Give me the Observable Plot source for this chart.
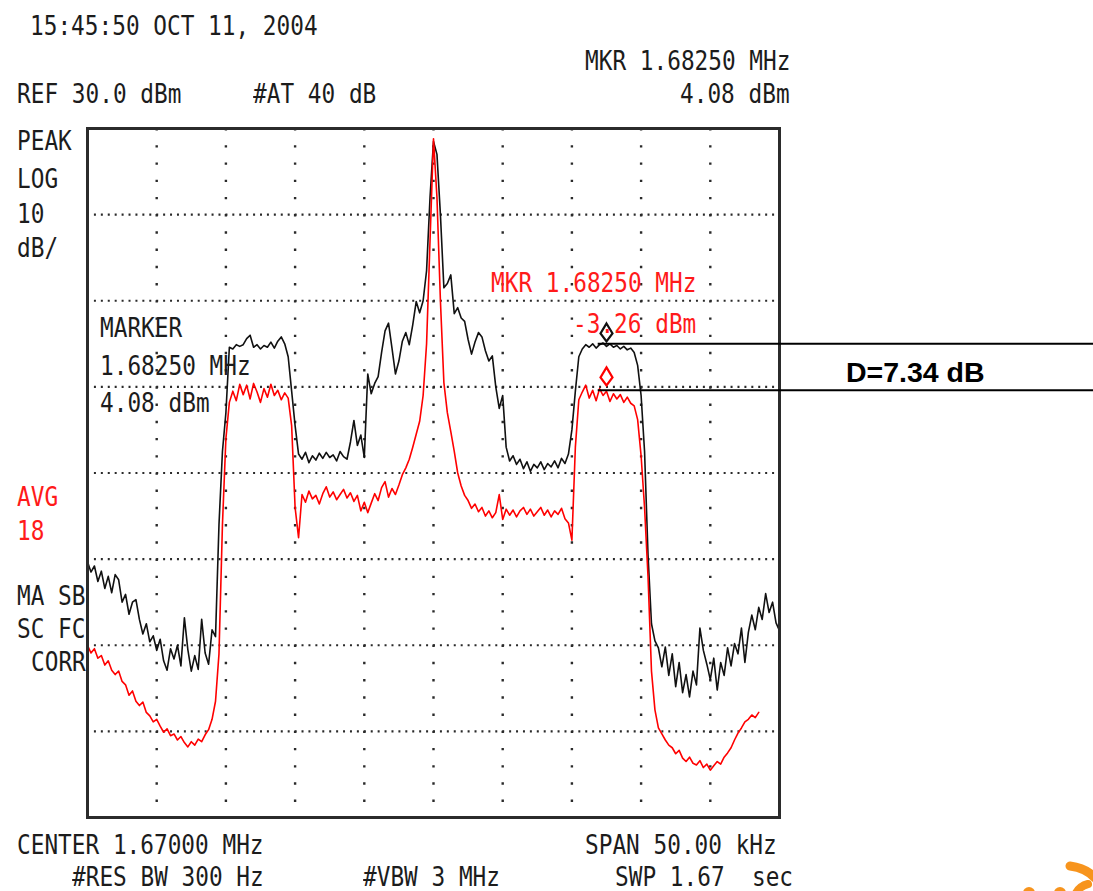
<!DOCTYPE html>
<html>
<head>
<meta charset="utf-8">
<script src="https://cdn.jsdelivr.net/npm/d3@7"></script>
<script src="https://cdn.jsdelivr.net/npm/@observablehq/plot@0.6"></script>
<style>
  html, body { margin: 0; padding: 0; background: #fff; overflow: hidden; }
  #wrap { position: relative; width: 1093px; height: 891px; background: #fff; }
  #chart { position: absolute; left: 0; top: 0; }
  .t { position: absolute; font-family: "DejaVu Sans Mono", monospace; font-size: 22.75px; line-height: 1;
       white-space: pre; color: #1c1c1c; transform: scaleY(1.2); transform-origin: 0 0; }
  .red { color: #ff1a1a; }
  .d { position: absolute; font-family: "Liberation Sans", Arial, sans-serif; font-weight: bold;
       font-size: 28.5px; line-height: 1; white-space: pre; color: #000; }
  #logo { position: absolute; left: 0; top: 0; }
</style>
</head>
<body>
<div id="wrap"><div id="chart"></div></div>
<script>
// ---- Data ----
const sweepStartMHz = 1.645;      // CENTER 1.67000 MHz, SPAN 50.00 kHz
const sweepEndMHz = 1.695;
const sweepStepMHz = 0.00025;     // trace sample spacing
const refLevelDbm = 30;           // REF 30.0 dBm, 10 dB/div, 8 div
const bottomLevelDbm = -50;

// Peak (black) trace, dBm
const peakTrace = [
  -20.3,-21.5,-20.8,-22.6,-21.4,-23.4,-22.0,-23.9,-21.8,-22.4,
  -25.0,-24.1,-26.4,-25.0,-24.7,-27.0,-28.7,-27.5,-29.6,-28.9,
  -30.6,-29.3,-31.8,-32.9,-30.4,-31.6,-30.0,-32.4,-26.8,-30.5,
  -33.0,-31.2,-32.8,-27.0,-30.9,-32.2,-28.2,-29.0,-16.0,-7.5,
  -3.0,4.6,4.4,4.9,4.7,4.9,5.6,6.0,4.6,4.9,
  4.4,4.8,4.6,5.2,4.5,5.3,5.8,5.0,3.5,-0.5,
  -4.5,-7.8,-8.4,-7.6,-8.8,-8.0,-8.5,-7.7,-8.3,-7.6,
  -8.2,-7.9,-8.6,-7.5,-8.1,-8.4,-6.4,-3.9,-6.8,-5.6,
  -8.2,1.5,-0.8,0.4,1.2,4.0,6.5,7.4,4.5,1.5,
  3.0,5.3,6.3,4.9,7.2,9.9,8.6,10.0,13.5,22.0,
  28.5,27.0,20.0,11.5,12.0,13.0,8.5,9.2,8.0,7.6,
  5.5,3.8,5.2,6.3,5.8,4.2,3.0,3.6,0.0,-2.5,
  -1.0,-7.0,-8.6,-8.0,-9.0,-8.4,-9.5,-8.7,-9.8,-9.0,
  -9.4,-8.7,-9.6,-8.9,-9.3,-8.6,-9.4,-8.3,-8.9,-7.8,
  -5.0,-0.5,3.5,4.4,4.9,4.6,5.0,4.5,4.9,5.1,
  4.7,5.0,4.6,4.8,4.4,4.7,4.3,4.5,4.0,2.5,
  -1.0,-7.5,-19.5,-27.5,-29.5,-30.3,-32.5,-30.2,-33.5,-31.0,
  -34.8,-32.0,-35.5,-33.4,-36.0,-33.0,-34.6,-28.0,-30.6,-32.2,
  -34.0,-31.5,-35.2,-32.0,-33.5,-30.3,-32.4,-29.8,-31.0,-28.0,
  -32.0,-28.5,-26.5,-28.2,-25.6,-27.0,-24.0,-26.2,-25.0,-27.4,
  -28.3
];

// Average (red) trace, dBm (ends before the right edge)
const avgTrace = [
  -30.0,-30.9,-30.4,-31.5,-31.2,-32.3,-31.8,-32.9,-33.4,-33.0,
  -34.2,-34.6,-35.8,-35.3,-36.5,-37.0,-36.6,-37.8,-38.2,-38.9,
  -38.6,-39.4,-40.1,-39.7,-40.5,-40.3,-41.0,-40.6,-41.3,-41.8,
  -41.2,-41.6,-40.9,-41.2,-40.4,-39.8,-38.6,-36.5,-31.0,-16.0,
  -6.0,-1.8,-0.5,-1.6,0.3,-0.9,0.2,-1.4,0.4,-0.6,
  -1.8,-0.2,-1.2,0.3,-1.0,-0.4,-1.5,-0.7,-1.3,-4.5,
  -14.0,-17.5,-12.5,-13.4,-12.1,-13.0,-12.6,-13.6,-12.4,-11.6,
  -12.8,-12.2,-13.1,-12.5,-11.9,-12.9,-12.3,-13.3,-12.6,-14.4,
  -13.4,-14.6,-13.5,-12.4,-13.2,-11.7,-11.0,-12.8,-11.8,-12.5,
  -11.4,-10.2,-9.4,-8.4,-7.0,-5.5,-4.0,-1.0,5.0,17.0,
  28.8,22.0,10.0,0.5,-3.0,-5.2,-7.5,-10.0,-11.5,-12.6,
  -13.2,-14.1,-13.6,-14.5,-14.0,-15.0,-14.4,-15.2,-14.6,-12.5,
  -15.4,-14.2,-14.9,-14.3,-15.1,-14.4,-14.0,-14.8,-14.2,-15.0,
  -14.5,-14.0,-14.9,-14.3,-15.1,-14.4,-14.8,-14.1,-15.3,-15.8,
  -17.8,-7.0,-1.5,-0.6,0.2,-1.3,-0.4,-1.6,-0.2,-1.0,
  -0.5,-1.7,-0.8,-1.4,-0.9,-1.8,-1.2,-1.9,-2.2,-3.8,
  -8.0,-14.0,-22.0,-33.0,-37.5,-39.6,-40.3,-41.0,-41.6,-41.9,
  -42.6,-42.2,-43.1,-43.5,-43.0,-43.7,-43.9,-43.4,-44.2,-43.8,
  -44.5,-44.0,-43.5,-43.8,-43.0,-42.5,-41.9,-41.0,-40.2,-39.6,
  -38.9,-38.6,-38.1,-38.4,-37.8
];

// Grid divisions
const freqGridMHz = [1.650, 1.655, 1.660, 1.665, 1.670, 1.675, 1.680, 1.685, 1.690];
const levelGridDbm = [20, 10, 0, -10, -20, -30, -40];

// Marker (diamond) symbols on each trace
const markerFreqMHz = 1.6825;
const markerTraceNames = ["peak", "avg"];
const markerSymbolDbm = [6.2, 1.1];

// Delta annotation levels
const deltaLevelsDbm = [5.0, -0.4];
const deltaStartMHz = 1.6819;
const deltaEndMHz = 1.7177;
const deltaLabel = "D=7.34 dB";

// ---- Build tables ----
const toRows = (arr) => arr.map((v, i) => ({ f: sweepStartMHz + i * sweepStepMHz, dbm: v }));
const peakRows = toRows(peakTrace);
const avgRows = toRows(avgTrace);
const markerRows = markerTraceNames.map((name, i) => ({ name, f: markerFreqMHz, dbm: markerSymbolDbm[i] }));
const deltaRows = deltaLevelsDbm.map(v => ({ y: v, x1: deltaStartMHz, x2: deltaEndMHz }));

const markerSymbol = {
  draw(ctx) {
    ctx.moveTo(0, -10);
    ctx.lineTo(6, 0);
    ctx.lineTo(0, 8);
    ctx.lineTo(-6, 0);
    ctx.closePath();
  }
};

const chart = Plot.plot({
  width: 1093,
  height: 891,
  marginTop: 128,
  marginRight: 314,
  marginBottom: 74,
  marginLeft: 87,
  x: { domain: [sweepStartMHz, sweepEndMHz], axis: null },
  y: { domain: [bottomLevelDbm, refLevelDbm], axis: null },
  marks: [
    Plot.ruleY(levelGridDbm, { stroke: "#2a2a2a", strokeWidth: 2.2, strokeDasharray: "2,4.92" }),
    Plot.ruleX(freqGridMHz, { stroke: "#2a2a2a", strokeWidth: 2.4, strokeDasharray: "2.4,14.82" }),
    Plot.line(peakRows, { x: "f", y: "dbm", stroke: "#111", strokeWidth: 1.6, curve: "linear" }),
    Plot.line(avgRows, { x: "f", y: "dbm", stroke: "#ff0000", strokeWidth: 1.6, curve: "linear" }),
    Plot.dot(markerRows, { x: "f", y: "dbm", symbol: markerSymbol, fill: "none",
      stroke: d => d.name === "peak" ? "#111" : "#ff0000", strokeWidth: 2.2 }),
    Plot.frame({ stroke: "#2b2b2b", strokeWidth: 3 }),
    Plot.ruleY(deltaRows, { y: "y", x1: "x1", x2: "x2", stroke: "#000", strokeWidth: 2 })
  ]
});
document.getElementById("chart").appendChild(chart);

// ---- Instrument annotation texts ----
const texts = [
  ["15:45:50 OCT 11, 2004", 30, 12, ""],
  ["MKR 1.68250 MHz", 585, 47, ""],
  ["REF 30.0 dBm", 17, 80, ""],
  ["#AT 40 dB", 253, 80, ""],
  ["4.08 dBm", 680, 80, ""],
  ["PEAK", 17, 127, ""],
  ["LOG", 17, 165, ""],
  ["10", 17, 200, ""],
  ["dB/", 17, 234, ""],
  ["MARKER", 100, 314, ""],
  ["1.68250 MHz", 100, 352, ""],
  ["4.08 dBm", 100, 389, ""],
  ["AVG", 17, 483, "red"],
  ["18", 17, 517, "red"],
  ["MA SB", 17, 582, ""],
  ["SC FC", 17, 615, ""],
  ["CORR", 31, 648, ""],
  ["MKR 1.68250 MHz", 491, 269, "red"],
  ["-3.26 dBm", 573, 310, "red"],
  ["CENTER 1.67000 MHz", 17, 831, ""],
  ["#RES BW 300 Hz", 72, 863, ""],
  ["#VBW 3 MHz", 363, 863, ""],
  ["SPAN 50.00 kHz", 585, 831, ""],
  ["SWP 1.67  sec", 615, 863, ""]
];
const wrap = document.getElementById("wrap");
for (const [s, left, top, cls] of texts) {
  const el = document.createElement("div");
  el.className = "t " + cls;
  el.style.left = left + "px";
  el.style.top = top + "px";
  el.textContent = s;
  wrap.appendChild(el);
}
const dl = document.createElement("div");
dl.className = "d";
dl.style.left = "846px";
dl.style.top = "358px";
dl.textContent = deltaLabel;
wrap.appendChild(dl);

// partial orange logo at the bottom-right corner
const ns = "http://www.w3.org/2000/svg";
const logo = document.createElementNS(ns, "svg");
logo.setAttribute("id", "logo");
logo.setAttribute("width", 1093);
logo.setAttribute("height", 891);
logo.innerHTML =
  '<path d="M1070,866 Q1086,868 1095,878" fill="none" stroke="#f7941d" stroke-width="9" stroke-linecap="round"/>' +
  '<circle cx="1029" cy="893" r="6" fill="#f7941d"/>' +
  '<circle cx="1060" cy="893" r="6" fill="#f7941d"/>' +
  '<path d="M1076,893 Q1080,886 1088,884" fill="none" stroke="#f7941d" stroke-width="8" stroke-linecap="round"/>';
wrap.appendChild(logo);
</script>
</body>
</html>
